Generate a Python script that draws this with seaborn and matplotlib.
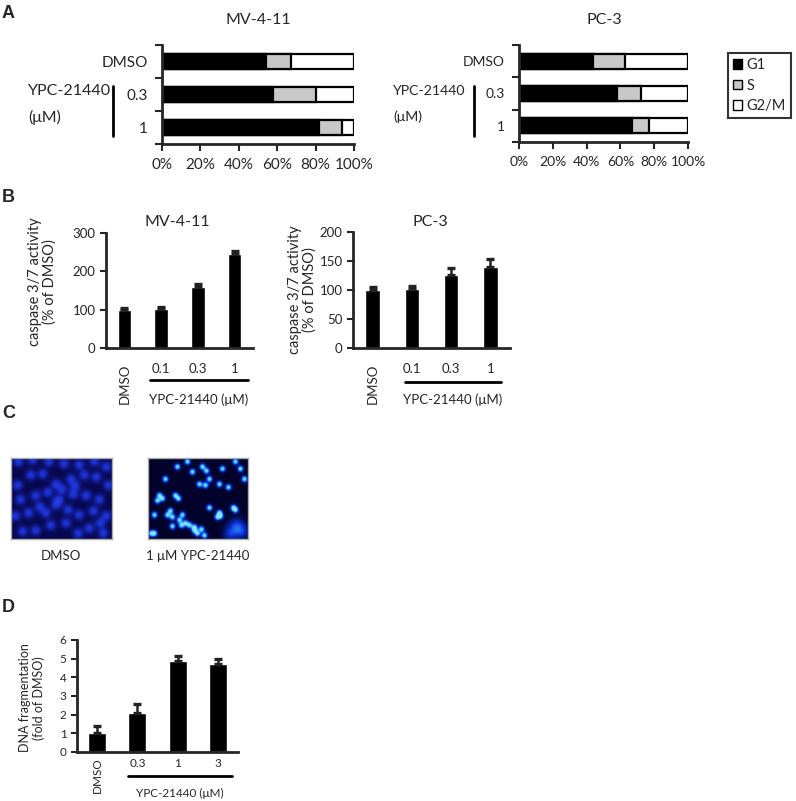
import numpy as np
import pandas as pd
import seaborn as sns
import matplotlib.pyplot as plt
from matplotlib.patches import Patch
from matplotlib.colors import LinearSegmentedColormap

W, H = 796, 801

# Panel A: cell cycle distribution (% of cells)
cc_labels = ["DMSO", "0.3", "1"]
mv_g1 = [54, 58, 82]
mv_s = [13, 22, 12]
mv_g2m = [33, 20, 6]
pc_g1 = [44, 58, 67]
pc_s = [19, 14, 10]
pc_g2m = [37, 28, 23]
pct_ticks = [0, 20, 40, 60, 80, 100]

# Panel B: caspase 3/7 activity (% of DMSO)
casp_labels = ["DMSO", "0.1", "0.3", "1"]
mv_casp = [100, 103, 160, 245]
mv_casp_err = [4, 5, 8, 8]
pc_casp = [100, 101, 126, 140]
pc_casp_err = [5, 6, 12, 14]

# Panel C: nuclei spots (column, row) in 100x80 images
dmso_nuc_x = [7, 21, 37, 52, 67, 82, 94, 6, 19, 31, 44, 59, 72, 84, 96,
              9, 24, 36, 47, 61, 74, 87, 4, 17, 34, 44, 56, 67, 81, 94,
              11, 24, 39, 54, 66, 77, 91, 28, 63, 50, 88]
dmso_nuc_y = [4, 2, 4, 6, 7, 4, 9, 27, 17, 16, 26, 21, 17, 19, 27,
              41, 37, 34, 41, 36, 37, 41, 57, 54, 54, 46, 51, 56, 52, 57,
              72, 71, 66, 64, 74, 69, 74, 48, 28, 31, 64]
treat_x = [17, 29, 39, 54, 61, 71, 74, 87, 92, 96, 51, 57, 11, 9, 27, 22,
           19, 34, 31, 37, 71, 72, 87, 6, 6, 46, 49, 56, 24, 41, 61,
           44, 58, 80, 14, 30, 24, 33, 46, 69, 85, 53, 3]
treat_y = [21, 9, 4, 9, 21, 26, 11, 4, 11, 21, 26, 27, 37, 42, 37, 52,
           56, 56, 61, 64, 54, 57, 51, 56, 74, 71, 74, 76, 67, 66, 49,
           14, 13, 29, 40, 40, 58, 66, 68, 58, 49, 70, 74]
dim_x = [88, 93, 82]
dim_y = [66, 72, 74]

# Panel D: DNA fragmentation (fold of DMSO)
dna_labels = ["DMSO", "0.3", "1", "3"]
dna_frag = [1.0, 2.1, 4.85, 4.72]
dna_err = [0.4, 0.45, 0.3, 0.25]

sns.set_style("ticks")
plt.rcParams["font.family"] = ["Lato", "DejaVu Sans"]

fig = plt.figure(figsize=(W / 100, H / 100), dpi=100)


def px_axes(left, top, right, bottom):
    return fig.add_axes([left / W, 1 - bottom / H, (right - left) / W, (bottom - top) / H])


def px_text(x, y, s, **kw):
    fig.text(x / W, 1 - y / H, s, **kw)


def cycle_panel(ax, g1, s, g2m, fs):
    df = pd.DataFrame({"cond": cc_labels, "G1": g1, "S": s, "G2/M": g2m})
    df["G1+S"] = df["G1"] + df["S"]
    df["total"] = df["G1+S"] + df["G2/M"]
    for col, colr in [("total", "white"), ("G1+S", "#c8c8c8"), ("G1", "black")]:
        sns.barplot(data=df, y="cond", x=col, color=colr, saturation=1,
                    edgecolor="black", linewidth=1.6, width=0.47, orient="h", ax=ax)
    ax.set_xlim(0, 100)
    ax.set_ylim(2.5, -0.5)
    ax.set_xticks(pct_ticks)
    ax.set_xticklabels([f"{t}%" for t in pct_ticks], fontsize=fs)
    ax.set_yticks([-0.5, 0.5, 1.5, 2.5], minor=True)
    ax.tick_params(axis="y", which="major", length=0, pad=10, labelsize=fs)
    ax.tick_params(axis="y", which="minor", length=5, width=1.5)
    ax.tick_params(axis="x", length=5, width=1.5, pad=5)
    ax.set_xlabel("")
    ax.set_ylabel("")
    sns.despine(ax=ax)
    for sp in ["left", "bottom"]:
        ax.spines[sp].set_linewidth(2)


def bar_panel(ax, labels, vals, errs, ymax, ystep, width, pad, fs,
              line_x, line_y, text_y):
    df = pd.DataFrame({"dose": labels, "value": vals})
    sns.barplot(data=df, x="dose", y="value", color="black", saturation=1,
                width=width, ax=ax)
    ax.errorbar(range(len(vals)), vals, yerr=[np.zeros(len(vals)), errs],
                fmt="none", ecolor="#222222", elinewidth=1.8, capsize=3, capthick=2.4)
    ax.set_ylim(0, ymax)
    ax.set_xlim(-0.5, len(vals) - 0.5)
    ax.set_yticks(np.arange(0, ymax + ystep / 2, ystep))
    ax.tick_params(axis="y", length=4, width=1.5, labelsize=fs)
    ax.tick_params(axis="x", length=0, pad=pad, labelsize=fs)
    tl = ax.get_xticklabels()
    tl[0].set_rotation(90)
    tl[0].set_va("top")
    ax.set_xlabel("")
    ax.set_ylabel("")
    sns.despine(ax=ax)
    for sp in ["left", "bottom"]:
        ax.spines[sp].set_linewidth(2)
    tr = ax.get_xaxis_transform()
    ax.plot(line_x, [line_y, line_y], transform=tr, clip_on=False, color="black", lw=2)
    ax.text(np.mean(line_x), text_y, "YPC-21440 (μM)", transform=tr,
            ha="center", va="center", fontsize=fs)


def spot_image(xs, ys, sigma, amp, img=None):
    rows, cols = np.mgrid[0:80, 0:100]
    if img is None:
        img = np.zeros((80, 100))
    for x, y in zip(xs, ys):
        img = img + amp * np.exp(-((cols - x) ** 2 + (rows - y) ** 2) / (2 * sigma ** 2))
    return np.clip(img, 0, 1)


# ---- Panel A ----
ax_a1 = px_axes(162, 45, 354, 144)
cycle_panel(ax_a1, mv_g1, mv_s, mv_g2m, 11)
ax_a2 = px_axes(519, 45, 688, 142)
cycle_panel(ax_a2, pc_g1, pc_s, pc_g2m, 10)

px_text(258, 20, "MV-4-11", ha="center", va="center", fontsize=11.5)
px_text(604, 20, "PC-3", ha="center", va="center", fontsize=11.5)
for x0, xline, fs in [(28, 113, 11.5), (393, 474, 10.2)]:
    px_text(x0, 91, "YPC-21440", ha="left", va="center", fontsize=fs)
    px_text(x0, 117, "(μM)", ha="left", va="center", fontsize=fs)
    fig.add_artist(plt.Line2D([xline / W, xline / W], [1 - 86 / H, 1 - 136 / H],
                              color="black", lw=2))

leg = fig.legend(handles=[Patch(facecolor="black", edgecolor="black", label="G1"),
                          Patch(facecolor="#c8c8c8", edgecolor="black", label="S"),
                          Patch(facecolor="white", edgecolor="black", label="G2/M")],
                 loc="upper left", bbox_to_anchor=(728 / W, 1 - 53 / H),
                 frameon=True, fancybox=False, edgecolor="black", fontsize=10.5,
                 handlelength=0.6, handleheight=0.6, handletextpad=0.3,
                 borderpad=0.35, labelspacing=0.45, borderaxespad=0)
leg.get_frame().set_linewidth(1.5)

# ---- Panel B ----
ax_b1 = px_axes(106, 233, 253, 348)
bar_panel(ax_b1, casp_labels, mv_casp, mv_casp_err, 300, 100, 0.37, 11, 9.5,
          [0.70, 3.36], -0.28, -0.45)
ax_b2 = px_axes(353, 232, 510, 348)
bar_panel(ax_b2, casp_labels, pc_casp, pc_casp_err, 200, 50, 0.37, 11, 9.5,
          [0.82, 3.27], -0.29, -0.45)
px_text(177, 222, "MV-4-11", ha="center", va="center", fontsize=11.5)
px_text(430, 222, "PC-3", ha="center", va="center", fontsize=11.5)
px_text(42, 282, "caspase 3/7 activity\n(% of DMSO)", ha="center", va="center",
        rotation=90, fontsize=10.5, linespacing=1.05)
px_text(302, 290, "caspase 3/7 activity\n(% of DMSO)", ha="center", va="center",
        rotation=90, fontsize=10.5, linespacing=1.05)

# ---- Panel C ----
cmap_dmso = LinearSegmentedColormap.from_list("dmso", ["#07074e", "#1b30d0", "#2a45f0"])
cmap_treat = LinearSegmentedColormap.from_list("treat", ["#02022a", "#0b35e0", "#38b8ff", "#8ae4ff"])
ax_c1 = px_axes(11, 458, 112, 539)
ax_c1.imshow(spot_image(dmso_nuc_x, dmso_nuc_y, 3.4, 0.6), cmap=cmap_dmso,
             vmin=0, vmax=1, aspect="auto", interpolation="bilinear")
ax_c2 = px_axes(148, 458, 248, 539)
treat_img = spot_image(dim_x, dim_y, 5.0, 0.3)
treat_img = spot_image(treat_x, treat_y, 1.9, 0.95, treat_img)
ax_c2.imshow(treat_img, cmap=cmap_treat, vmin=0, vmax=1, aspect="auto",
             interpolation="bilinear")
for ax in [ax_c1, ax_c2]:
    ax.set_xticks([])
    ax.set_yticks([])
    for sp in ax.spines.values():
        sp.set_color("#aaaaaa")
        sp.set_linewidth(1)
px_text(61, 556, "DMSO", ha="center", va="center", fontsize=9.5)
px_text(198, 556, "1 μM YPC-21440", ha="center", va="center", fontsize=9.5)

# ---- Panel D ----
ax_d = px_axes(77, 640, 238, 752)
bar_panel(ax_d, dna_labels, dna_frag, dna_err, 6, 1, 0.45, 4, 8.5,
          [0.77, 3.35], -0.21, -0.37)
px_text(32, 698, "DNA fragmentation\n(fold of DMSO)", ha="center", va="center",
        rotation=90, fontsize=9, linespacing=1.05)

# panel letters
for letter, y in [("A", 13), ("B", 197), ("C", 413), ("D", 608)]:
    px_text(2, y, letter, ha="left", va="center", fontsize=13, fontweight="bold",
            family=["Liberation Sans", "DejaVu Sans"])

fig.savefig("out.png", dpi=100)
